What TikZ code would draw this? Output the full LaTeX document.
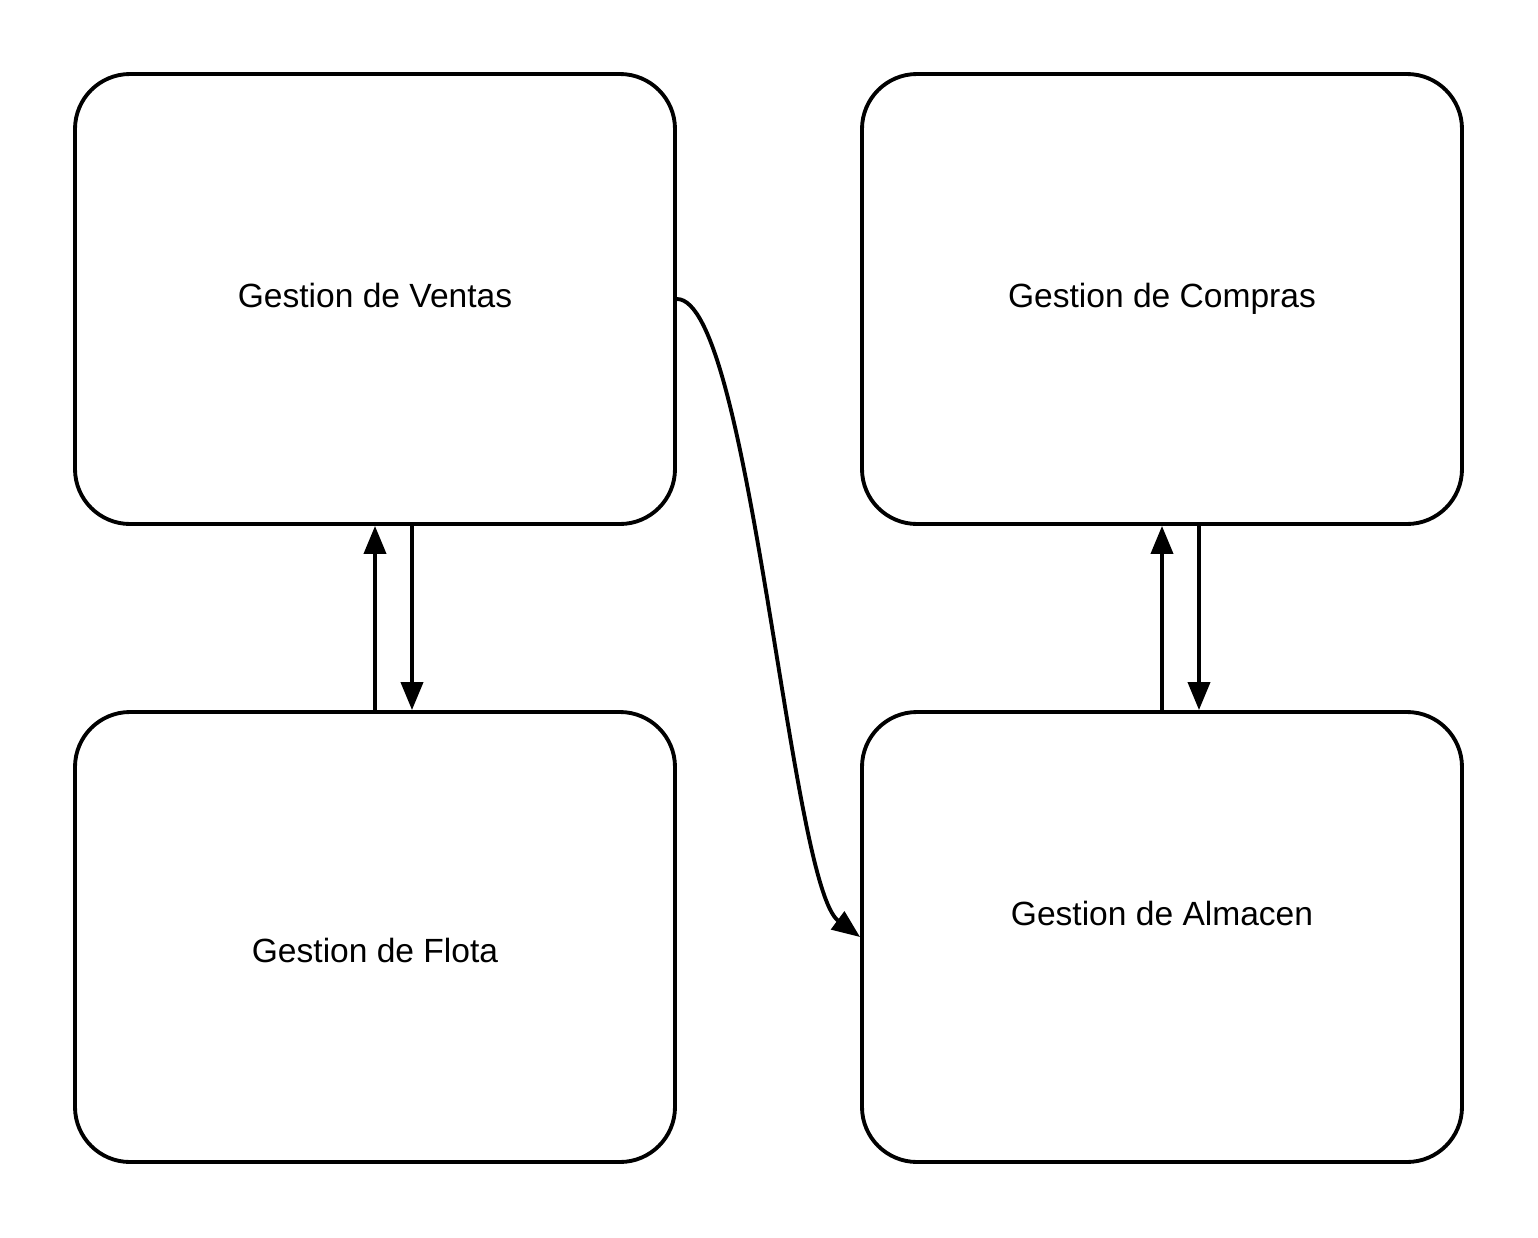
\documentclass[tikz,border=0pt]{standalone}
\usepackage{fontspec}
\setmainfont{Liberation Sans}
\usetikzlibrary{arrows.meta}

\tikzset{
    modulo/.style={draw, line width=1.1pt, rounded corners=0.55cm,
        minimum width=6cm, minimum height=4.5cm, inner sep=0pt,
        text height=0.25cm, text depth=0.08cm,
        font=\fontsize{9.55}{11}\selectfont},
    flecha/.style={line width=1.1pt, -{Triangle[length=0.28cm, width=0.22cm]}}
}

\begin{document}
\begin{tikzpicture}
    % Marco de la imagen
    \useasboundingbox (0,0) rectangle (15.38,-12.38);

    % Modulos
    \node[modulo] (ventas) at (3.75,-2.99) {Gestion de Ventas};
    \node[modulo] (compras) at (11.62,-2.99) {Gestion de Compras};
    \node[modulo, label={[yshift=-0.13cm, font=\fontsize{9.55}{11}\selectfont]center:Gestion de Flota}] (flota) at (3.75,-9.37) {};
    \node[modulo, label={[yshift=0.24cm, font=\fontsize{9.55}{11}\selectfont]center:Gestion de Almacen}] (almacen) at (11.62,-9.37) {};

    % Flechas entre modulos
    \draw[flecha] (flota.north) -- (ventas.south);
    \draw[flecha] ([xshift=0.37cm]ventas.south) -- ([xshift=0.37cm]flota.north);
    \draw[flecha] (almacen.north) -- (compras.south);
    \draw[flecha] ([xshift=0.37cm]compras.south) -- ([xshift=0.37cm]almacen.north);

    % Curva de ventas a almacen
    \draw[flecha] (ventas.east) .. controls (7.5,-2.99) and (7.9,-8.85) .. (almacen.west);
\end{tikzpicture}
\end{document}
